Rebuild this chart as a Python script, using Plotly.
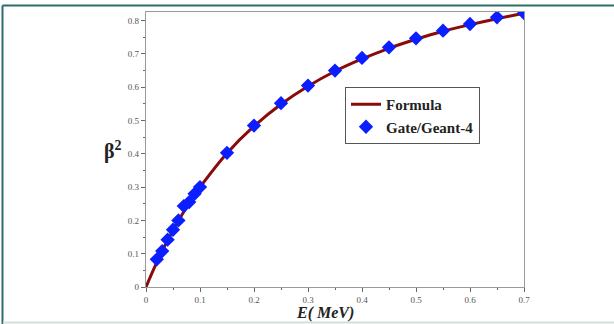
import plotly.graph_objects as go

# Formula curve
E_line = [0, 0.005, 0.01, 0.02, 0.03, 0.04, 0.05, 0.06, 0.07, 0.08, 0.09, 0.1,
          0.15, 0.2, 0.25, 0.3, 0.35, 0.4, 0.45, 0.5, 0.55, 0.6, 0.65, 0.7]
beta2_line = [0, 0.019, 0.038, 0.074, 0.108, 0.140, 0.170, 0.199, 0.226, 0.252, 0.277, 0.300,
              0.402, 0.483, 0.549, 0.603, 0.648, 0.685, 0.717, 0.744, 0.768, 0.788, 0.806, 0.822]

# Gate/Geant-4 points
E_pts = [0.02, 0.03, 0.04, 0.05, 0.06, 0.07, 0.08, 0.09, 0.1, 0.15, 0.2, 0.25,
         0.3, 0.35, 0.4, 0.45, 0.5, 0.55, 0.6, 0.65, 0.7]
beta2_pts = [0.083, 0.108, 0.142, 0.172, 0.200, 0.243, 0.255, 0.280, 0.300, 0.403, 0.485, 0.552,
             0.605, 0.650, 0.688, 0.720, 0.747, 0.770, 0.790, 0.810, 0.823]

x_ticks = [0, 0.1, 0.2, 0.3, 0.4, 0.5, 0.6, 0.7]
y_ticks = [0, 0.1, 0.2, 0.3, 0.4, 0.5, 0.6, 0.7, 0.8]

serif = "'Times New Roman', 'DejaVu Serif', serif"

fig = go.Figure()
fig.add_trace(go.Scatter(x=E_line, y=beta2_line, mode="lines", name="<b>Formula</b>",
                         line=dict(color="#8B0A0A", width=3, shape="spline")))
fig.add_trace(go.Scatter(x=E_pts, y=beta2_pts, mode="markers", name="<b>Gate/Geant-4</b>",
                         marker=dict(symbol="diamond", color="#0A1EFF", size=11,
                                     line=dict(width=0))))

L, R, T, B = 146, 90, 12, 37
W, H = 614, 324
pw, ph = W - L - R, H - T - B

def px(xp):
    return (xp - L) / pw

def py(yp):
    return (H - B - yp) / ph

axis_common = dict(showgrid=False, zeroline=False, showline=True, mirror=True,
                   linecolor="#9a9a9a", linewidth=1.2, ticks="outside", ticklen=4,
                   tickcolor="#666", tickwidth=1,
                   tickfont=dict(family=serif, size=9, color="#555"))

fig.update_xaxes(range=[0, 0.7], tickvals=x_ticks, ticktext=[f"{v:g}" for v in x_ticks],
                 minor=dict(ticks="outside", ticklen=2, dtick=0.05, tickcolor="#666"),
                 **axis_common)
fig.update_yaxes(range=[0, 0.826], tickvals=y_ticks, ticktext=[f"{v:g}" for v in y_ticks],
                 minor=dict(ticks="outside", ticklen=2, dtick=0.05, tickcolor="#666"),
                 **axis_common)

fig.add_annotation(text="<b><i>E( MeV)</i></b>", x=px(325), y=py(313), xref="paper", yref="paper",
                   showarrow=False, font=dict(family=serif, size=16, color="#222"),
                   xanchor="center", yanchor="middle")
fig.add_annotation(text="<b>β<sup>2</sup></b>", x=px(113), y=py(150), xref="paper", yref="paper",
                   showarrow=False, font=dict(family=serif, size=20, color="#222"),
                   xanchor="center", yanchor="middle")

# outer frame lines
fig.add_shape(type="line", xref="paper", yref="paper", x0=px(2.5), x1=px(614), y0=py(5.5), y1=py(5.5),
              line=dict(color="#2E6E6A", width=2))
fig.add_shape(type="line", xref="paper", yref="paper", x0=px(2.5), x1=px(2.5), y0=py(5.5), y1=py(324),
              line=dict(color="#2E6E6A", width=2))
fig.add_shape(type="line", xref="paper", yref="paper", x0=px(3), x1=px(614), y0=py(322.5), y1=py(322.5),
              line=dict(color="#D5DEDC", width=2))

fig.update_layout(
    width=W, height=H, margin=dict(l=L, r=R, t=T, b=B),
    paper_bgcolor="white", plot_bgcolor="white",
    showlegend=True,
    legend=dict(x=px(345), y=py(87), xanchor="left", yanchor="top",
                bordercolor="#555", borderwidth=1, bgcolor="white",
                font=dict(family=serif, size=15, color="#222"),
                tracegroupgap=0, itemwidth=30),
)

fig.write_html("out.html")
